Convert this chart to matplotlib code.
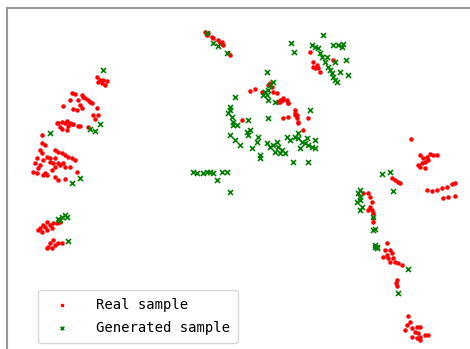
import matplotlib.pyplot as plt

# real samples (x, y)
real_x = [97, 100, 98, 102, 105, 103, 107,
          72, 75, 82, 83, 85, 88, 90, 92, 70, 78, 80, 82, 77, 73, 63, 97, 93, 98, 95,
          57, 62, 67, 70, 73, 60, 68, 78, 58, 65, 72, 80, 62, 67, 88,
          42, 42, 45, 40, 42, 55, 58, 62, 65, 68, 72, 75, 47, 50, 55, 37, 43, 50, 53, 58, 63,
          35, 40, 55, 60, 65, 70, 38, 33, 37, 45, 52, 43, 47, 55, 58, 65, 77,
          47, 43, 40, 45, 50, 53, 57, 60, 42, 38, 47, 52, 53, 50, 48, 55, 58, 62, 47, 52,
          205, 208, 207, 212, 213, 218, 222, 220, 223, 228, 230,
          310, 313, 317, 313, 318, 320, 315, 333,
          250, 255, 262, 268, 270, 272, 273, 277, 280, 283, 287, 288, 280, 295, 297, 288,
          283, 297, 298, 308, 303, 242, 295, 278, 283, 288, 295, 298,
          411, 420, 423, 427, 430, 433, 437, 422, 420, 425, 428, 418, 425,
          427, 432, 437, 442, 447, 452, 455, 443, 448, 455,
          392, 395, 398, 400, 363, 368, 370, 372, 370, 372, 368, 373, 373, 373,
          387, 385, 390, 392, 387, 388, 393, 395, 390, 398, 402, 383, 397, 396, 397,
          408, 410, 407, 412, 417, 420, 415, 418, 412, 417, 420, 425, 428, 405, 420]
real_y = [77, 80, 82, 83, 85, 80, 81,
          93, 94, 95, 97, 98, 100, 102, 103, 100, 100, 105, 108, 110, 109, 106, 108, 115, 115, 119,
          123, 122, 121, 123, 124, 127, 126, 126, 123, 123, 124, 126, 129, 130, 127,
          135, 143, 145, 150, 153, 150, 152, 153, 155, 157, 158, 160, 157, 158, 158, 158, 160, 162, 163, 163, 163,
          163, 165, 167, 165, 167, 167, 168, 172, 173, 173, 170, 175, 175, 177, 180, 179, 172,
          222, 225, 228, 227, 225, 223, 223, 222, 232, 230, 230, 228, 240, 243, 247, 245, 243, 243, 248, 248,
          32, 33, 35, 37, 38, 40, 42, 43, 45, 53, 55,
          52, 62, 65, 67, 68, 72, 68, 60,
          91, 89, 92, 85, 83, 87, 92, 93, 100, 98, 100, 103, 102, 110, 115, 117,
          118, 118, 122, 118, 130, 120, 113, 102, 100, 103, 115, 123,
          139, 155, 158, 157, 154, 155, 155, 163, 167, 162, 160, 165, 168,
          190, 191, 190, 188, 187, 184, 183, 198, 197, 196,
          178, 180, 182, 183, 193, 193, 197, 202, 207, 210, 210, 213, 218, 222,
          243, 250, 250, 253, 255, 258, 258, 262, 262, 263, 265, 257, 280, 283, 286,
          316, 322, 325, 328, 327, 327, 332, 333, 337, 338, 337, 335, 335, 330, 340]

# generated samples (x, y)
gen_x = [103, 50, 90, 95, 100, 72, 80,
         58, 62, 65, 67, 60, 68,
         207, 213, 218, 227,
         323, 291, 294, 312, 315, 318, 320, 322, 325, 328, 330, 332, 333, 335, 337,
         333, 338, 343, 342, 335, 346, 340, 348, 327,
         267, 273, 270, 265, 268, 267, 263, 268, 275, 235,
         230, 230, 228, 232, 233, 237, 233, 248, 268, 310, 247, 248, 250, 230, 235, 240,
         258, 257, 252, 270, 273, 277, 278, 282, 285, 260, 260, 287, 290, 295, 298, 302,
         305, 308, 312, 315, 300, 293, 308, 298, 307, 315, 267, 275, 280,
         193, 197, 203, 207, 210, 213, 222, 227, 217, 230,
         382, 390, 393, 360, 358, 360, 357, 360, 362, 360, 373, 375, 375, 377,
         375, 377, 408, 398, 373]
gen_y = [70, 133, 129, 131, 124, 183, 178,
         219, 217, 215, 217, 220, 241,
         33, 43, 46, 53,
         35, 43, 52, 45, 47, 48, 53, 57, 62, 67, 70, 73, 77, 80, 82,
         45, 45, 44, 47, 62, 60, 72, 75, 57,
         72, 82, 85, 92, 90, 95, 95, 100, 102, 97,
         107, 110, 113, 117, 122, 125, 125, 120, 118, 110, 132, 135, 130, 135, 140, 145,
         137, 142, 148, 147, 145, 142, 147, 150, 153, 155, 158, 137, 140, 137, 138, 142,
         143, 145, 147, 148, 148, 162, 162, 133, 138, 140, 143, 152, 153,
         172, 173, 173, 172, 172, 173, 172, 172, 180, 192,
         174, 172, 191, 190, 193, 197, 202, 200, 207, 210, 217, 229, 247, 247,
         245, 248, 269, 293, 230]

fig = plt.figure(figsize=(4.7, 3.49), dpi=100)
# axes runs past the right and bottom edge (picture is a crop)
ax = fig.add_axes([7.5 / 470, -0.2, 1.2, 1.2 - 8 / 349])
ax.scatter(real_x, real_y, s=5, c='red', marker='o', label='Real sample')
ax.scatter(gen_x, gen_y, s=13, c='green', marker='x', linewidths=1.2, label='Generated sample')
ax.set_xlim(7.5, 7.5 + 1.2 * 470)
ax.set_ylim(8 + (1.2 - 8 / 349) * 349, 8)
ax.set_xticks([])
ax.set_yticks([])
for sp in ax.spines.values():
    sp.set_color('#999999')
    sp.set_linewidth(1.5)

fig.legend(loc='lower left', bbox_to_anchor=(38 / 470, 6 / 349), borderaxespad=0,
           prop={'family': 'DejaVu Sans Mono', 'size': 10}, frameon=True, markerscale=0.7,
           borderpad=0.58, labelspacing=0.65, handlelength=2.3, handletextpad=1.3)

fig.savefig('out.png', dpi=100)
